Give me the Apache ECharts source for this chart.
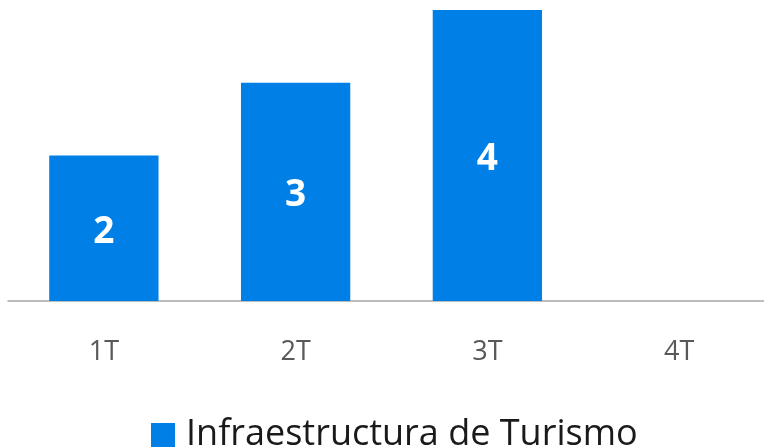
<!DOCTYPE html>
<html>
<head>
<meta charset="utf-8">
<script src="https://cdn.jsdelivr.net/npm/echarts@6/dist/echarts.min.js"></script>
<style>
  html, body { margin: 0; padding: 0; background: #fff; }
  #chart { width: 764px; height: 448px; }
</style>
</head>
<body>
<div id="chart"></div>
<script>
// datos del gráfico
const categories = ['1T', '2T', '3T', '4T'];
const seriesName = 'Infraestructura de Turismo';
const values = [2, 3, 4, null];

const chart = echarts.init(document.getElementById('chart'));
chart.setOption({
  animation: false,
  grid: {
    left: 8,
    width: 767,
    top: 10,
    bottom: 147,
    outerBoundsMode: 'none',
  },
  legend: {
    show: true,
    bottom: -10,
    left: 146,
    itemWidth: 24,
    itemHeight: 24,
    itemGap: 10,
    icon: 'rect',
    textStyle: {
      fontFamily: 'Open Sans',
      fontSize: 36,
      color: '#1a1a1a',
      padding: [0, 0, 0, 6],
    },
    data: [seriesName],
  },
  xAxis: {
    type: 'category',
    data: categories,
    axisLine: { lineStyle: { color: '#a6a6a6', width: 1.5 } },
    axisTick: { show: false },
    axisLabel: {
      fontFamily: 'Open Sans',
      fontSize: 27,
      color: '#595959',
      margin: 38,
    },
  },
  yAxis: {
    type: 'value',
    min: 0,
    max: 4,
    show: false,
    splitLine: { show: false },
  },
  series: [
    {
      name: seriesName,
      type: 'bar',
      barWidth: '57%',
      data: values,
      itemStyle: { color: '#0080e6' },
      label: {
        show: true,
        position: 'inside',
        offset: [0, 4],
        fontFamily: 'Open Sans',
        fontWeight: 'bold',
        fontSize: 37,
        color: '#fff',
      },
    },
  ],
});
window.addEventListener('resize', () => { chart.resize(); });
</script>
</body>
</html>
